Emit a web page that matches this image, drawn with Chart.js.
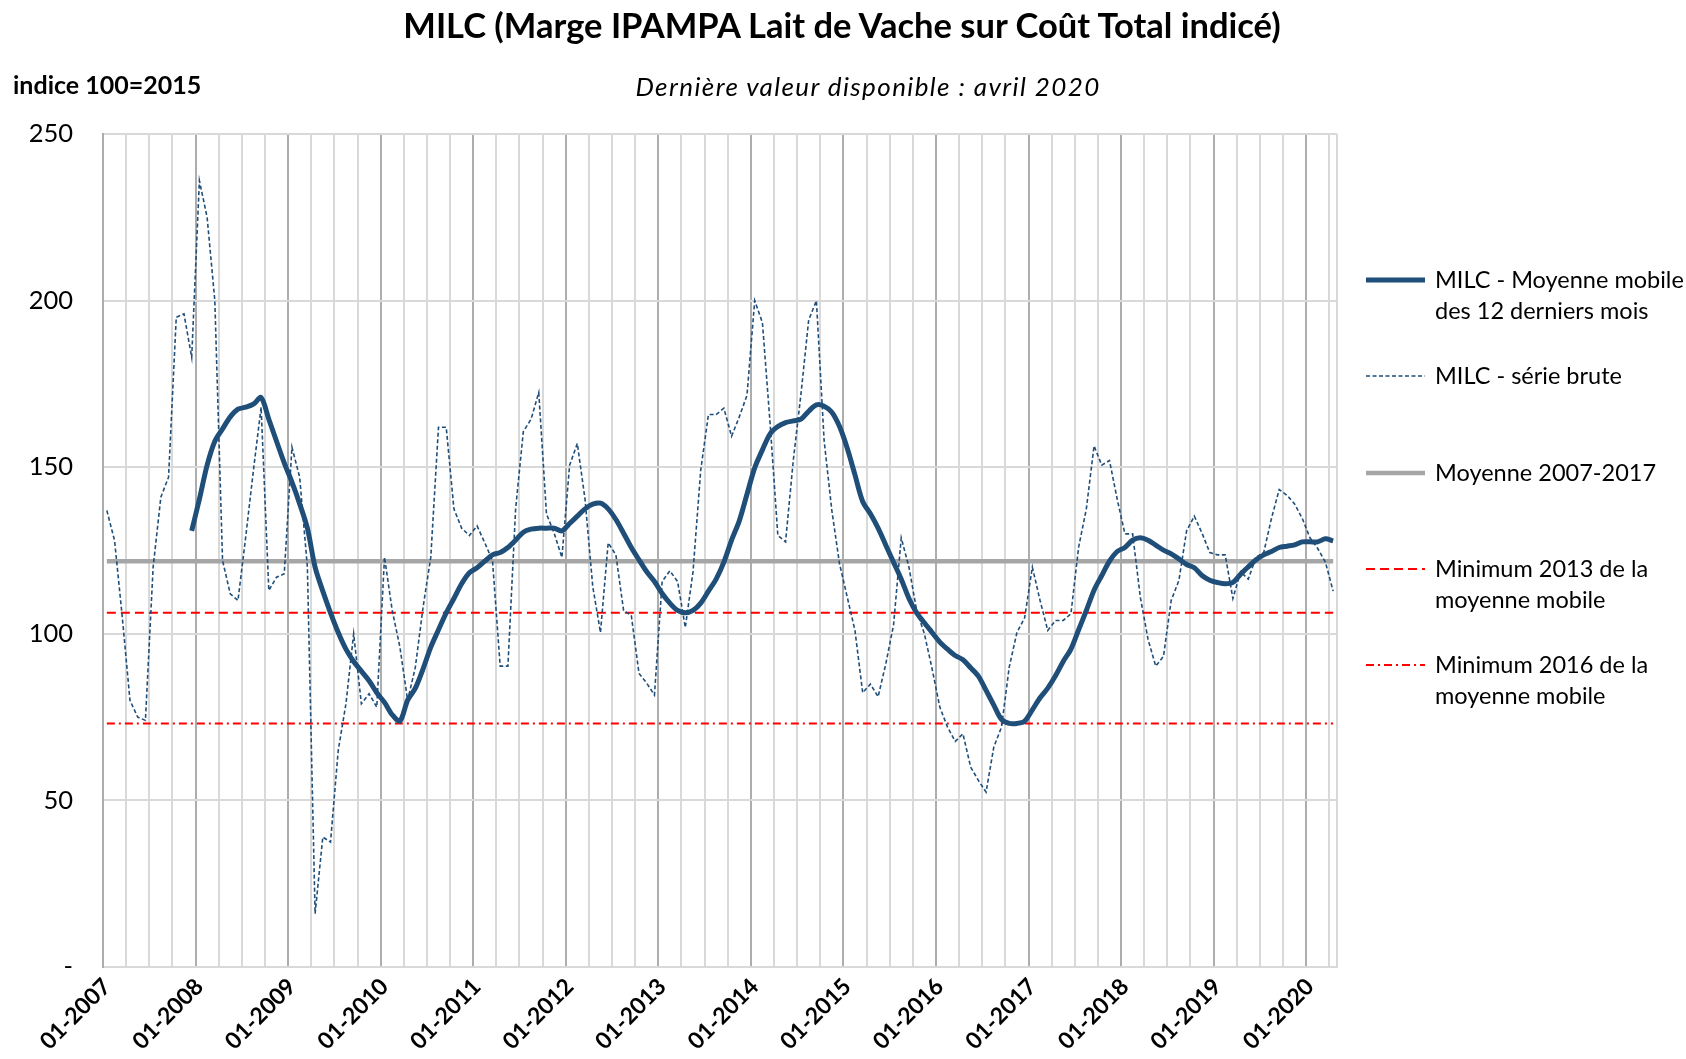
<!DOCTYPE html>
<html lang="fr">
<head>
<meta charset="utf-8">
<title>MILC</title>
<script src="https://cdn.jsdelivr.net/npm/chart.js@4.4.1/dist/chart.umd.min.js"></script>
<style>
  html, body { margin: 0; padding: 0; background: #fff; }
  body { width: 1686px; height: 1059px; position: relative; overflow: hidden; font-family: Lato, 'Open Sans', sans-serif; color: #000; }
  #chart { position: absolute; left: 0; top: 0; }
  .txt { position: absolute; white-space: nowrap; line-height: 1; }
  #title { left: 842px; top: 8px; transform: translateX(-50%); font-size: 34.5px; font-weight: bold; }
  #subtitle { left: 868px; top: 73px; transform: translateX(-50%); font-size: 26px; font-style: italic; letter-spacing: 1.4px; }
  #unit { left: 13px; top: 72px; font-size: 25px; font-weight: bold; }
  .legend-item { position: absolute; left: 1366px; display: flex; align-items: flex-start; font-size: 23.5px; line-height: 31px; }
  .legend-item svg { flex: none; margin-top: 10px; margin-right: 10px; }
</style>
</head>
<body>
<canvas id="chart" width="1686" height="1059"></canvas>
<div class="txt" id="title">MILC (Marge IPAMPA Lait de Vache sur Coût Total indicé)</div>
<div class="txt" id="subtitle">Dernière valeur disponible : avril 2020</div>
<div class="txt" id="unit">indice 100=2015</div>
<div id="legend"></div>
<script>
// categories : mois de 01-2007 à 04-2020
const YEARS = [2007, 2008, 2009, 2010, 2011, 2012, 2013, 2014, 2015, 2016, 2017, 2018, 2019, 2020];
const LAST_MONTH = 4;

// MILC - série brute (indice 100=2015)
const milcBrute = [
  137, 128, 105, 80, 75, 74, 120, 141, 147, 195, 196, 183,            // 2007
  236, 225, 200, 122, 112, 110, 129, 149, 168, 113, 117, 118,         // 2008
  156, 147, 120, 16, 39, 37.5, 65, 79, 100, 79, 82, 78,               // 2009
  123, 107, 96, 80, 90, 108, 123, 162, 162, 137.5, 131.7, 129.5,      // 2010
  132.4, 127.3, 122, 90.3, 90.3, 137.5, 160.7, 164.4, 172.4, 136, 130.2, 122.9, // 2011
  150.6, 157.1, 140.4, 114.2, 100.4, 127.3, 123.7, 107, 105.5, 88.1, 85.2, 81.6, // 2012
  115.7, 118.9, 115.7, 101.9, 118.6, 149.1, 165.8, 165.8, 167.7, 159.3, 165.1, 171.6, // 2013
  200, 193.4, 163, 129.5, 127.6, 152, 172, 194.2, 200, 158, 137, 121, // 2014
  111, 101, 82.3, 84.9, 81.1, 91, 102.6, 128.8, 120, 107, 100, 89.5,  // 2015
  78, 72, 67.7, 70, 60, 56, 52.5, 66, 72, 90, 100.4, 104.8,           // 2016
  120, 110, 101, 104, 104, 106, 126, 137.5, 156.4, 150.6, 152, 140.4, // 2017
  130, 130, 111, 98.3, 90.3, 93.2, 110, 116, 130.9, 135.3, 130.2, 124.4, // 2018
  123.7, 123.7, 110.6, 118.6, 116.4, 123, 124.4, 134.6, 143.3, 141.6, 139, 134.6, // 2019
  128.8, 125.6, 121.5, 112.8                                          // 2020
];

// MILC - moyenne mobile des 12 derniers mois (à partir de 12-2007)
const milcMoyenneMobile = [
  null, null, null, null, null, null, null, null, null, null, null, 130.9,   // 2007
  140.4, 150.6, 157.8, 161.5, 165.1, 167.4, 168, 168.9, 170.9, 164.4, 157.8, 151.3, // 2008
  145.5, 139, 131.7, 120, 112.8, 106.3, 100.4, 95.4, 91.7, 88.8, 85.9, 82.3, // 2009
  79.4, 75.7, 73.8, 80.1, 83.7, 89.5, 96, 101.2, 106.3, 110.6, 115, 118.3,  // 2010
  119.8, 121.8, 123.7, 124.4, 125.9, 128.1, 130.5, 131.4, 131.7, 131.7, 131.7, 130.9, // 2011
  133.1, 135.3, 137.5, 138.9, 139.2, 137.5, 134.3, 130.2, 125.9, 122.2, 118.6, 115.7, // 2012
  112.1, 109.2, 107, 106.3, 107, 109.2, 112.8, 116.4, 121.5, 128.1, 133.9, 141.9, // 2013
  149.8, 155.2, 160, 162.2, 163.4, 163.9, 164.4, 166.8, 168.7, 168.3, 166.5, 162.2, // 2014
  155.7, 147.7, 139.7, 136, 131.7, 126.6, 121.5, 116.4, 110.6, 106.3, 103.3, 100.4, // 2015
  97.5, 95.4, 93.5, 92.2, 89.8, 87.3, 83, 78.6, 74.3, 73.1, 73.1, 73.8,     // 2016
  77.2, 80.8, 83.7, 87.4, 91.7, 95.4, 101.2, 107, 113.1, 117.5, 121.8, 124.7, // 2017
  125.9, 128.1, 128.8, 128.1, 126.6, 125.1, 124, 122.5, 120.8, 119.8, 117.5, 116.1, // 2018
  115.4, 115, 115.4, 117.9, 120.1, 122.2, 123.7, 124.7, 125.9, 126.3, 126.7, 127.6, // 2019
  127.6, 127.6, 128.5, 127.9                                          // 2020
];

// niveaux de référence
const MOYENNE_2007_2017 = 121.8;
const MINIMUM_2013 = 106.3;
const MINIMUM_2016 = 73.1;

const Y_MIN = 0;
const Y_MAX = 250;
const Y_STEP = 50;

const LEGEND_LABELS = [
  ['MILC - Moyenne mobile', 'des 12 derniers mois'],
  ['MILC - série brute'],
  ['Moyenne 2007-2017'],
  ['Minimum 2013 de la', 'moyenne mobile'],
  ['Minimum 2016 de la', 'moyenne mobile'],
];

const BLUE = '#1F4E79';
const GREY = '#A6A6A6';
const RED = '#FF0000';
const GRID_LIGHT = '#D9D9D9';
const GRID_DARK = '#ADADAD';

const labels = [];
YEARS.forEach((year) => {
  const months = year === YEARS[YEARS.length - 1] ? LAST_MONTH : 12;
  for (let m = 1; m <= months; m++) {
    labels.push(String(m).padStart(2, '0') + '-' + year);
  }
});

const flat = (value) => labels.map(() => value);

const datasets = [
  {
    label: LEGEND_LABELS[0].join(' '),
    data: milcMoyenneMobile,
    borderColor: BLUE,
    borderWidth: 5,
    tension: 0.3,
  },
  {
    label: LEGEND_LABELS[1].join(' '),
    data: milcBrute,
    borderColor: BLUE,
    borderWidth: 1.6,
    borderDash: [4, 2.5],
  },
  {
    label: LEGEND_LABELS[2].join(' '),
    data: flat(MOYENNE_2007_2017),
    borderColor: GREY,
    borderWidth: 4.5,
  },
  {
    label: LEGEND_LABELS[3].join(' '),
    data: flat(MINIMUM_2013),
    borderColor: RED,
    borderWidth: 2,
    borderDash: [9, 5],
  },
  {
    label: LEGEND_LABELS[4].join(' '),
    data: flat(MINIMUM_2016),
    borderColor: RED,
    borderWidth: 2,
    borderDash: [8, 4, 2, 4],
  },
];

const chart = new Chart(document.getElementById('chart'), {
  type: 'line',
  data: { labels, datasets },
  options: {
    responsive: false,
    animation: false,
    layout: { padding: { top: 134, right: 349, left: 0, bottom: 0 } },
    elements: { point: { radius: 0 }, line: { borderCapStyle: 'butt' } },
    plugins: { legend: { display: false }, tooltip: { enabled: false } },
    scales: {
      x: {
        offset: true,
        afterFit: (scale) => { scale.height = 92; },
        grid: {
          offset: true,
          drawTicks: false,
          lineWidth: 2,
          color: (ctx) => {
            const i = ctx.index;
            if (i === undefined) return GRID_LIGHT;
            if (i % 12 === 0) return GRID_DARK;
            if (i % 3 === 0) return GRID_LIGHT;
            return 'transparent';
          },
        },
        border: { color: GRID_LIGHT, width: 2 },
        ticks: {
          autoSkip: false,
          maxRotation: 45,
          minRotation: 45,
          padding: 6,
          color: '#000',
          font: { family: 'Lato', size: 23, weight: 'bold' },
          callback: (value, index) => (index % 12 === 0 ? labels[index] : ''),
        },
      },
      y: {
        min: Y_MIN,
        max: Y_MAX,
        afterFit: (scale) => { scale.width = 103; },
        grid: { color: GRID_LIGHT, lineWidth: 2, drawTicks: false },
        border: { color: GRID_DARK, width: 2 },
        ticks: {
          stepSize: Y_STEP,
          padding: 30,
          color: '#000',
          font: { family: 'Lato', size: 25.5 },
          callback: (value) => (value === 0 ? '-' : value),
        },
      },
    },
  },
});

// légende à droite, construite à partir des séries
const legend = document.getElementById('legend');
const LEGEND_TOP = 264;
const LEGEND_GAP = 96.3;
chart.data.datasets.forEach((ds, i) => {
  const item = document.createElement('div');
  item.className = 'legend-item';
  item.style.top = (LEGEND_TOP + i * LEGEND_GAP) + 'px';
  const dash = ds.borderDash ? ds.borderDash.join(' ') : 'none';
  item.innerHTML = `
    <svg width="59" height="12"><line x1="0" y1="6" x2="59" y2="6" stroke="${ds.borderColor}"
      stroke-width="${ds.borderWidth}" stroke-dasharray="${dash}"/></svg>
    <div>${LEGEND_LABELS[i].join('<br>')}</div>
  `;
  legend.appendChild(item);
});
</script>
</body>
</html>
